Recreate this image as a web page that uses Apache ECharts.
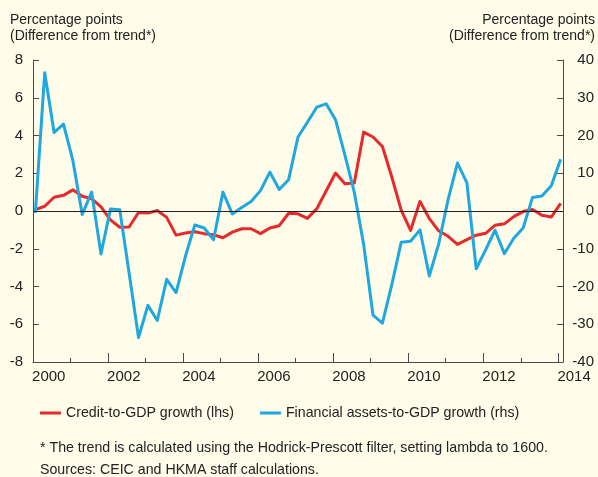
<!DOCTYPE html>
<html>
<head>
<meta charset="utf-8">
<script src="https://cdn.jsdelivr.net/npm/echarts@6/dist/echarts.min.js"></script>
<style>
    html, body { margin: 0; padding: 0; background: #fffcea; }
    #chart { width: 598px; height: 477px; }
</style>
</head>
<body>
<div id="chart"></div>
<script>
// quarterly observations, 2000 Q1 to 2014 Q1
var startYear = 2000;
var creditGdp = [
    0.07, 0.25, 0.73, 0.83, 1.12, 0.78, 0.65, 0.22, -0.47, -0.86,
    -0.85, -0.08, -0.11, 0.03, -0.34, -1.28, -1.17, -1.10, -1.20, -1.26,
    -1.42, -1.12, -0.94, -0.94, -1.20, -0.90, -0.78, -0.12, -0.15, -0.39,
    0.11, 1.06, 2.01, 1.45, 1.48, 4.18, 3.92, 3.42, 1.80, 0.05,
    -1.03, 0.51, -0.40, -1.05, -1.34, -1.77, -1.52, -1.28, -1.18, -0.76,
    -0.68, -0.30, -0.03, 0.08, -0.23, -0.32, 0.40
];
var finAssetsGdp = [
    -0.5, 36.6, 20.8, 23.0, 13.4, -0.9, 5.0, -11.4, 0.5, 0.3,
    -16.5, -33.5, -25.0, -29.0, -18.1, -21.6, -12.0, -3.7, -4.5, -7.6,
    5.0, -0.8, 0.9, 2.5, 5.4, 10.3, 5.7, 8.3, 19.6, 23.5,
    27.5, 28.4, 24.2, 14.8, 5.0, -8.9, -27.6, -29.7, -19.5, -8.3,
    -8.0, -5.0, -17.2, -8.7, 3.0, 12.7, 7.5, -15.3, -10.3, -5.1,
    -11.3, -7.2, -4.5, 3.6, 4.0, 6.7, 13.7
];
var yearTicks = ['2000', '2002', '2004', '2006', '2008', '2010', '2012', '2014'];
var seriesNames = ['Credit-to-GDP growth (lhs)', 'Financial assets-to-GDP growth (rhs)'];

var font = 'Liberation Sans, Arial, Helvetica, sans-serif';
var axisColor = '#4a4a4a';

// x position of each quarter (a little after the start of the quarter)
var quarterX = function(i){
    return startYear + i * 0.25 + 0.0625;
};
var toPairs = function(arr){
    var out = [];
    for(var i=0; i<arr.length; i++){
        out.push([quarterX(i), arr[i]]);
    }
    return out;
};

var chart = echarts.init(document.getElementById('chart'), null, {renderer: 'canvas'});

var option = {
    backgroundColor: '#fffcea',
    animation: false,
    textStyle: { fontFamily: font },
    grid: { left: 33, right: 35, top: 60, bottom: 115 },
    legend: {
        left: 35,
        top: 401,
        itemWidth: 21,
        itemHeight: 3,
        itemGap: 26,
        icon: 'rect',
        textStyle: { fontFamily: font, fontSize: 14.2, color: '#222' },
        data: seriesNames
    },
    xAxis: {
        type: 'value',
        min: 2000,
        max: 2014.125,
        interval: 2,
        axisLine: { show: true, onZero: false, lineStyle: { color: axisColor, width: 1 } },
        axisTick: { show: true, inside: true, length: 9, lineStyle: { color: axisColor } },
        minorTick: { show: true, splitNumber: 2, length: 4, lineStyle: { color: axisColor } },
        splitLine: { show: false },
        axisLabel: {
            margin: 7,
            fontSize: 15,
            color: '#222',
            fontFamily: font,
            // year label sits inside its year, not on the tick
            padding: [0, 0, 0, 31.5],
            formatter: function(v){
                var s = String(Math.round(v));
                return (Math.abs(v - Math.round(v)) < 1e-6 && yearTicks.indexOf(s) >= 0) ? s : '';
            }
        }
    },
    yAxis: [{
        type: 'value',
        min: -8,
        max: 8,
        interval: 2,
        axisLine: { show: true, onZero: false, lineStyle: { color: axisColor, width: 1 } },
        axisTick: { show: true, inside: true, length: 6, lineStyle: { color: axisColor } },
        splitLine: { show: false },
        axisLabel: { margin: 10, fontSize: 15, color: '#222', fontFamily: font }
    }, {
        type: 'value',
        min: -40,
        max: 40,
        interval: 10,
        position: 'right',
        axisLine: { show: true, onZero: false, lineStyle: { color: axisColor, width: 1 } },
        axisTick: { show: true, inside: true, length: 6, lineStyle: { color: axisColor } },
        splitLine: { show: false },
        axisLabel: { margin: 31, align: 'right', fontSize: 15, color: '#222', fontFamily: font }
    }],
    series: [{
        name: seriesNames[0],
        type: 'line',
        yAxisIndex: 0,
        data: toPairs(creditGdp),
        showSymbol: false,
        color: '#e52a2b',
        lineStyle: { width: 3, color: '#e52a2b', join: 'round' },
        markLine: {
            silent: true,
            symbol: 'none',
            label: { show: false },
            lineStyle: { color: '#222', width: 1, type: 'solid' },
            data: [{ yAxis: 0 }]
        },
        z: 2
    }, {
        name: seriesNames[1],
        type: 'line',
        yAxisIndex: 1,
        data: toPairs(finAssetsGdp),
        showSymbol: false,
        color: '#1fa7df',
        lineStyle: { width: 3, color: '#1fa7df', join: 'round' },
        z: 3
    }],
    graphic: [
        { type: 'text', left: 10, top: 13, style: { text: 'Percentage points', font: '14px ' + font, fill: '#222' } },
        { type: 'text', left: 10, top: 29, style: { text: '(Difference from trend*)', font: '14px ' + font, fill: '#222' } },
        { type: 'text', right: 3, top: 13, style: { text: 'Percentage points', font: '14px ' + font, fill: '#222' } },
        { type: 'text', right: 3, top: 29, style: { text: '(Difference from trend*)', font: '14px ' + font, fill: '#222' } },
        { type: 'text', left: 40, top: 441, style: { text: '* The trend is calculated using the Hodrick-Prescott filter, setting lambda to 1600.', font: '14.2px ' + font, fill: '#222' } },
        { type: 'text', left: 40, top: 463, style: { text: 'Sources: CEIC and HKMA staff calculations.', font: '14.2px ' + font, fill: '#222' } }
    ]
};

chart.setOption(option);
</script>
</body>
</html>
